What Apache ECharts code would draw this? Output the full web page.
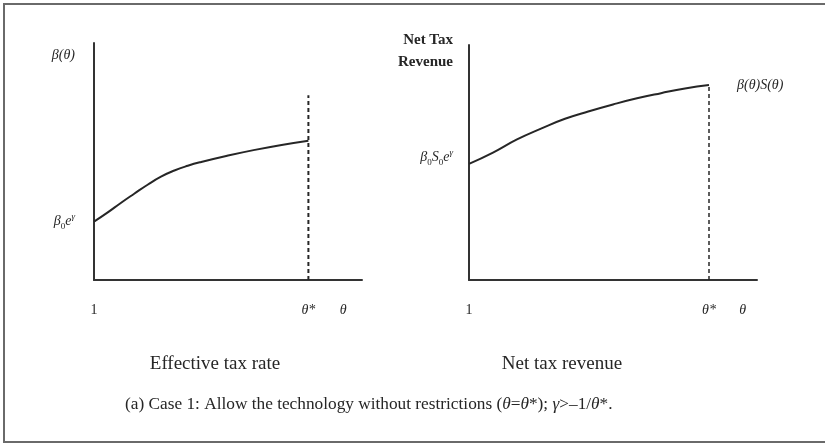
<!DOCTYPE html>
<html><head><meta charset="utf-8">
<script src="https://cdn.jsdelivr.net/npm/echarts@6/dist/echarts.min.js"></script>
<style>html,body{margin:0;padding:0;background:#fff}#c{width:825px;height:443px}</style>
</head><body><div id="c"></div>
<script>
// ---- data ----
const leftX = [1, 1.5, 2, 2.5, 3, 3.5, 4, 4.5, 5, 6, 7, 8, 9];
const leftY = [24.6, 28.4, 32.5, 36.4, 40.2, 43.6, 46.2, 48.2, 49.8, 52.5, 54.9, 57.0, 58.8];
const leftThetaStar = 9;
const leftDashTop = 78;
const rightX = [1, 2, 3, 4, 5, 6, 7, 8, 9, 10, 11];
const rightY = [49.4, 54.2, 59.8, 64.4, 68.6, 71.8, 74.7, 77.3, 79.5, 81.5, 83.0];
const rightThetaStar = 11;
const leftXTicks = [1, 9, 10.3];
const leftXTickLabels = ['1', '{i|θ*}', '{i|θ}'];
const rightXTicks = [1, 11, 12.4];
const rightXTickLabels = ['1', '{i|θ*}', '{i|θ}'];
const leftYTicks = [24.6, 95];
const leftYTickLabels = ['{i|β}{sub|0}{i|e}{sup|γ}', '{i|β(θ)}'];
const rightYTicks = [52, 97.4];
const rightYTickLabels = ['{i|β}{sub|0}{i|S}{sub|0}{i|e}{sup|γ}', '{b|Net Tax}\n{b|Revenue}'];
const endLabelText = 'β(θ)S(θ)';
const subtitleLeft = 'Effective tax rate';
const subtitleRight = 'Net tax revenue';
const caption = '(a) Case 1: Allow the technology without restrictions ({i|θ}={i|θ}*); {i|γ}>–1/{i|θ}*.';

const FONT = '"Liberation Serif", "Times New Roman", serif';
const INK = '#262626';
const rich = {
  i: {fontStyle: 'italic', fontSize: 14, fontFamily: FONT, color: INK},
  sub: {fontSize: 9, fontFamily: FONT, color: INK, verticalAlign: 'bottom', lineHeight: 19},
  sup: {fontStyle: 'italic', fontSize: 9, fontFamily: FONT, color: INK, verticalAlign: 'top', lineHeight: 19},
  b: {fontSize: 15, fontFamily: FONT, color: INK, fontWeight: 'bold', lineHeight: 22, align: 'right'}
};
function lookup(vals, labels) {
  return function (v) {
    for (let k = 0; k < vals.length; k++) if (Math.abs(vals[k] - v) < 1e-6) return labels[k];
    return '';
  };
}
function xAxisCfg(idx, max, ticks, labels) {
  return {
    type: 'value', gridIndex: idx, min: 1, max: max,
    axisLine: {show: true, lineStyle: {color: '#333', width: 2}},
    axisTick: {show: false}, splitLine: {show: false},
    axisLabel: {customValues: ticks, formatter: lookup(ticks, labels), margin: 23,
      fontFamily: FONT, fontSize: 14, color: INK, rich: rich}
  };
}
function yAxisCfg(idx, ticks, labels, margin) {
  return {
    type: 'value', gridIndex: idx, min: 0, max: 100,
    axisLine: {show: true, lineStyle: {color: '#333', width: 2}},
    axisTick: {show: false}, splitLine: {show: false},
    axisLabel: {customValues: ticks, formatter: lookup(ticks, labels), margin: margin,
      fontFamily: FONT, fontSize: 14, color: INK, rich: rich, align: 'right'}
  };
}
const chart = echarts.init(document.getElementById('c'), null, {renderer: 'canvas'});
chart.setOption({
  backgroundColor: '#fff',
  animation: false,
  title: [
    {text: subtitleLeft, left: 210, top: 350, textAlign: 'center',
      textStyle: {fontFamily: FONT, fontSize: 19, fontWeight: 'normal', color: INK}},
    {text: subtitleRight, left: 557, top: 350, textAlign: 'center',
      textStyle: {fontFamily: FONT, fontSize: 19, fontWeight: 'normal', color: INK}},
    {text: caption, left: 120, top: 391,
      textStyle: {fontFamily: FONT, fontSize: 17.3, fontWeight: 'normal', color: INK,
        rich: {i: {fontStyle: 'italic', fontSize: 17.3, fontFamily: FONT, color: INK}}}}
  ],
  graphic: [{type: 'rect', shape: {x: 4, y: 4, width: 840, height: 438},
    style: {fill: null, stroke: '#6a6a6a', lineWidth: 2}, silent: true}],
  grid: [
    {left: 94, top: 43, width: 268, height: 237},
    {left: 469, top: 45, width: 288, height: 235}
  ],
  xAxis: [xAxisCfg(0, 11, leftXTicks, leftXTickLabels), xAxisCfg(1, 13, rightXTicks, rightXTickLabels)],
  yAxis: [yAxisCfg(0, leftYTicks, leftYTickLabels, 19), yAxisCfg(1, rightYTicks, rightYTickLabels, 16)],
  series: [
    {type: 'line', xAxisIndex: 0, yAxisIndex: 0, showSymbol: false, smooth: true,
      data: leftX.map((x, k) => [x, leftY[k]]), lineStyle: {color: INK, width: 2}},
    {type: 'line', xAxisIndex: 0, yAxisIndex: 0, showSymbol: false,
      data: [[leftThetaStar, 0], [leftThetaStar, leftDashTop]],
      lineStyle: {color: INK, width: 2, type: [4, 3]}},
    {type: 'line', xAxisIndex: 1, yAxisIndex: 1, showSymbol: false, smooth: true,
      data: rightX.map((x, k) => [x, rightY[k]]), lineStyle: {color: INK, width: 2},
      endLabel: {show: true, formatter: endLabelText, distance: 28, fontFamily: FONT,
        fontStyle: 'italic', fontSize: 14, color: INK}},
    {type: 'line', xAxisIndex: 1, yAxisIndex: 1, showSymbol: false,
      data: [[rightThetaStar, 0], [rightThetaStar, rightY[rightY.length - 1]]],
      lineStyle: {color: INK, width: 1.5, type: [4, 3]}}
  ]
});
</script></body></html>
